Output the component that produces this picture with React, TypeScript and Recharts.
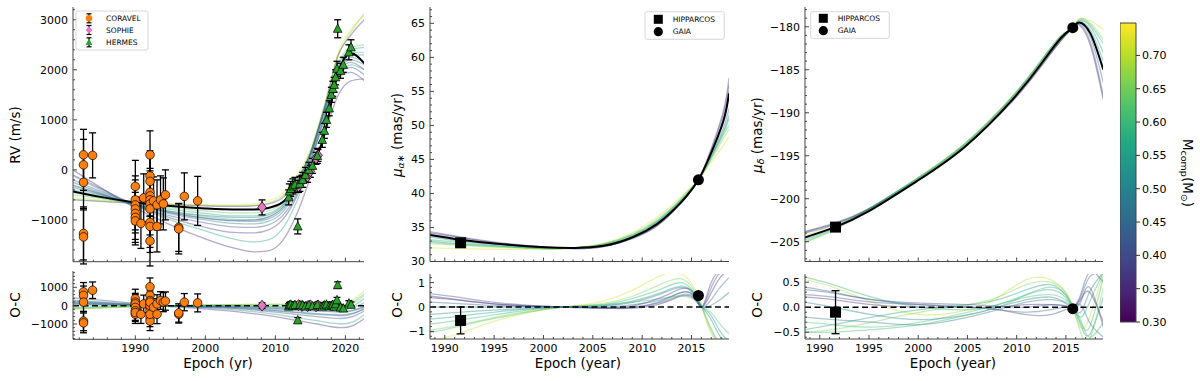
import React from 'react';
import { ComposedChart, Line, Scatter, XAxis, YAxis, ErrorBar, ReferenceLine, ReferenceArea } from 'recharts';

const FRAME = '#444';
const TICKC = '#333';
const FONT = 'DejaVu Sans, Verdana, sans-serif';

// ---------------- Panel 1 : radial velocity ----------------
const rvYears = [1981.1, 1985, 1990, 1995, 2000, 2004, 2007, 2009, 2011, 2013, 2015, 2017, 2019, 2020.8, 2022.7];
const rvBest = [-430, -540, -650, -720, -770, -790, -790, -760, -650, -360, -20, 700, 1950, 2330, 2130];
const rvSampleMass = [0.35, 0.56, 0.40, 0.50, 0.60, 0.45, 0.68, 0.72, 0.42, 0.63, 0.48, 0.37, 0.57, 0.38];
const rvSamples = [
  [0, -350, -760, -1100, -1380, -1560, -1640, -1620, -1420, -900, -150, 700, 1500, 1780, 1820],
  [-120, -400, -720, -1000, -1220, -1380, -1440, -1400, -1180, -650, 100, 1000, 1850, 2100, 2000],
  [-250, -460, -720, -920, -1060, -1140, -1150, -1100, -920, -500, 200, 1050, 1900, 2050, 1900],
  [-300, -480, -700, -880, -1000, -1070, -1080, -1030, -850, -420, 250, 1150, 2000, 2250, 2150],
  [-400, -520, -690, -830, -930, -990, -1000, -950, -760, -330, 300, 1200, 2050, 2350, 2350],
  [-350, -500, -690, -850, -960, -1020, -1030, -980, -800, -380, 280, 1150, 2000, 2200, 2100],
  [-590, -620, -660, -690, -710, -720, -710, -660, -520, -180, 350, 1250, 2300, 2750, 3130],
  [-560, -600, -650, -680, -700, -700, -680, -620, -470, -120, 400, 1300, 2350, 2800, 3100],
  [-200, -430, -690, -860, -970, -1010, -1000, -940, -760, -340, 300, 1200, 2000, 2150, 2000],
  [-500, -570, -670, -760, -820, -860, -860, -820, -660, -250, 350, 1250, 2150, 2450, 2500],
  [-320, -480, -690, -830, -910, -950, -950, -900, -720, -300, 320, 1200, 2050, 2300, 2300],
  [-100, -370, -700, -960, -1150, -1250, -1260, -1200, -1000, -550, 150, 1050, 1850, 1950, 1780],
  [-450, -550, -690, -790, -870, -920, -920, -870, -700, -280, 330, 1200, 2100, 2400, 2450],
  [-600, -630, -670, -700, -720, -730, -720, -680, -560, -230, 330, 1250, 2300, 2700, 3000],
];
const rvOcYears = [1981.1, 1985, 1990, 1995, 2000, 2005, 2010, 2013, 2016, 2018, 2019.5, 2021, 2022.7];
const rvOcMass = [0.35, 0.55, 0.40, 0.50, 0.62, 0.70, 0.45, 0.58, 0.42, 0.66, 0.52, 0.47];
const rvOcSamples = [
  [430, 300, 120, -50, -180, -350, -600, -800, -1000, -1150, -1200, -1100, -700],
  [300, 200, 80, -30, -120, -250, -480, -650, -820, -950, -1000, -900, -500],
  [250, 170, 60, -20, -90, -180, -350, -480, -600, -680, -700, -600, -300],
  [150, 100, 40, -10, -50, -120, -250, -350, -430, -480, -500, -420, -200],
  [-150, -100, -40, 0, 30, 50, 60, 50, 40, 30, 0, 200, 650],
  [-200, -140, -60, 0, 40, 70, 90, 80, 60, 50, 30, 300, 800],
  [200, 130, 50, -10, -60, -130, -280, -380, -480, -520, -550, -450, -150],
  [-100, -60, -20, 0, 10, 0, -50, -100, -150, -200, -220, -50, 400],
  [100, 70, 30, 0, -30, -80, -170, -250, -300, -330, -350, -280, -80],
  [-180, -120, -50, 0, 30, 40, 40, 20, -20, -60, -80, 100, 550],
  [50, 30, 10, 0, -10, -30, -80, -120, -160, -190, -200, -120, 150],
  [120, 80, 30, 0, -20, -60, -130, -200, -260, -300, -320, -250, -50],
];

const coravelYear = [1982.6, 1982.6, 1982.6, 1982.6, 1982.6, 1983.9, 1990.0, 1990.0, 1990.0, 1990.0, 1990.0, 1990.0, 1990.0, 1990.8, 1991.2,
  1992.1, 1992.1, 1992.1, 1992.1, 1992.1, 1992.1, 1992.1, 1992.1, 1992.1, 1992.1, 1992.1, 1992.6, 1993.1, 1993.1, 1993.6, 1994.0, 1994.3,
  1996.2, 1996.2, 1997.0, 1998.9];
const coravelRv = [300, 100, -250, -1270, -1340, 290, -330, -600, -700, -780, -870, -950, -1020, -1070, -560,
  300, -120, -230, -450, -520, -600, -680, -780, -1050, -1130, -1420, -620, -700, -1130, -600, -680, -500,
  -1150, -1180, -530, -620];
const coravelErr = [510, 510, 520, 530, 540, 450, 520, 480, 500, 480, 520, 500, 480, 500, 480,
  480, 500, 520, 480, 500, 510, 490, 520, 500, 520, 500, 480, 500, 510, 480, 520, 500,
  480, 500, 470, 490];
const coravelOc = [750, 560, 190, -840, -940, 840, 375, 190, 95, -95, -280, -470, -380, -470, 95,
  1030, 560, 280, 95, -95, -280, -655, -840, 0, 190, -470, -95, 95, -470, 280, 190, 250,
  -470, -400, 190, 150];

const sophieYear = [2008.1, 2013.3, 2013.8, 2014.6, 2015.0, 2015.8, 2016.1];
const sophieRv = [-750, -330, -230, -130, -30, 230, 290];
const sophieErr = [150, 120, 120, 120, 120, 120, 120];
const sophieOc = [0, 30, -20, -30, 20, -40, 10];

const hermesYear = [2011.9, 2012.0, 2012.2, 2012.5, 2012.8, 2013.2, 2013.5, 2013.9, 2014.3, 2014.8, 2015.3, 2016.0, 2016.7,
  2017.0, 2017.3, 2017.7, 2018.0, 2018.2, 2018.4, 2018.6, 2018.8, 2018.9, 2019.3, 2019.7, 2020.5, 2020.8];
const hermesRv = [-550, -430, -380, -330, -300, -1130, -280, -200, -100, 0, 80, 280, 600,
  780, 1000, 1230, 1500, 1620, 1700, 1850, 2020, 2820, 1980, 2100, 2350, 2450];
const hermesErr = [150, 150, 150, 150, 150, 150, 150, 150, 150, 150, 150, 150, 150,
  150, 150, 150, 150, 150, 150, 150, 150, 180, 150, 150, 150, 150];
const hermesOc = [-50, 30, 60, -20, 40, -800, 40, 20, -40, 30, -30, 40, -50,
  20, 60, -40, 0, 50, -60, 80, 300, 1120, -100, -150, 120, 50];

// ---------------- Panel 2 : mu alpha* ----------------
const raYears = [1988.5, 1991.6, 1995.3, 2000.2, 2003.2, 2006.1, 2009.1, 2011.5, 2013.2, 2014.5, 2015.7, 2016.8, 2018.2, 2018.8];
const raBest = [33.9, 33.2, 32.6, 32.1, 32.0, 32.3, 33.6, 35.5, 37.6, 39.6, 42.0, 45.3, 50.5, 54.7];
const raSampleMass = [0.40, 0.35, 0.50, 0.60, 0.72, 0.66, 0.55, 0.45, 0.62];
const raSamples = [
  [34.4, 33.6, 32.8, 32.1, 31.9, 32.2, 33.4, 35.2, 37.4, 39.5, 42.0, 45.8, 52.0, 57.0],
  [34.2, 33.5, 32.7, 32.1, 31.9, 32.2, 33.5, 35.3, 37.5, 39.5, 42.0, 45.6, 51.5, 56.0],
  [33.6, 33.0, 32.5, 32.0, 32.0, 32.4, 33.7, 35.7, 37.8, 39.8, 42.0, 45.0, 49.5, 52.5],
  [33.2, 32.8, 32.3, 31.9, 32.0, 32.5, 33.9, 35.9, 38.0, 39.9, 42.0, 44.8, 48.8, 51.0],
  [32.0, 31.9, 31.8, 31.8, 32.0, 32.7, 34.3, 36.5, 38.5, 40.3, 42.0, 44.2, 47.0, 48.3],
  [32.6, 32.4, 32.1, 31.9, 32.0, 32.6, 34.1, 36.2, 38.2, 40.1, 42.0, 44.5, 48.0, 49.5],
  [33.0, 32.6, 32.3, 31.9, 32.0, 32.5, 33.8, 35.8, 37.9, 39.8, 42.0, 44.9, 49.0, 51.5],
  [34.0, 33.3, 32.6, 32.0, 31.9, 32.3, 33.6, 35.4, 37.6, 39.6, 42.0, 45.3, 50.8, 55.0],
  [32.8, 32.5, 32.2, 31.9, 32.0, 32.6, 34.0, 36.0, 38.1, 40.0, 42.0, 44.6, 48.5, 50.0],
];
const raOcYears = [1988.5, 1991.35, 1995.3, 2000.2, 2003.2, 2006.1, 2009.1, 2012.0, 2014.0, 2015.25, 2016.05, 2016.9, 2017.9, 2018.8];
const raOcMass = [0.72, 0.40, 0.35, 0.50, 0.60, 0.66, 0.55, 0.45, 0.62, 0.48, 0.38];
const raOcSamples = [
  [-1.4, -1.1, -0.55, -0.1, 0.05, 0.25, 0.7, 1.3, 1.35, 0.8, 0.0, -1.0, -1.5, -1.5],
  [0.55, 0.4, 0.18, 0.02, -0.02, -0.05, -0.02, 0.25, 0.6, 0.45, 0.0, 0.7, 1.4, 1.5],
  [0.38, 0.28, 0.12, 0.02, 0.0, -0.05, -0.05, 0.15, 0.45, 0.35, 0.0, 0.5, 1.2, 1.5],
  [-0.3, -0.22, -0.12, -0.03, 0.0, 0.05, 0.2, 0.55, 0.8, 0.5, 0.0, -0.45, -1.2, -1.5],
  [-0.7, -0.55, -0.3, -0.05, 0.02, 0.1, 0.35, 0.75, 1.0, 0.6, 0.0, -0.8, -1.5, -1.5],
  [-0.95, -0.75, -0.4, -0.08, 0.03, 0.15, 0.45, 0.95, 1.15, 0.7, 0.0, -0.9, -1.5, -1.5],
  [-0.5, -0.38, -0.2, -0.04, 0.0, 0.05, 0.25, 0.6, 0.85, 0.55, 0.0, -0.3, -1.0, -1.4],
  [0.2, 0.14, 0.06, 0.0, -0.02, -0.04, 0.0, 0.2, 0.5, 0.4, 0.0, 0.25, 0.8, 1.2],
  [-1.05, -0.8, -0.45, -0.1, 0.03, 0.1, 0.2, 0.35, 0.45, 0.3, 0.0, -0.2, -0.7, -1.1],
  [0.0, 0.0, 0.0, 0.0, 0.0, 0.0, 0.1, 0.3, 0.6, 0.45, 0.0, 0.05, 0.3, 0.6],
  [0.45, 0.3, 0.12, 0.02, 0.0, -0.03, 0.05, 0.4, 0.75, 0.55, 0.0, 0.9, 1.5, 1.5],
];
const raHip = { year: 1991.6, v: 32.75, oc: -0.55, ocErr: 0.55 };
const raGaia = { year: 2015.7, v: 42.0, oc: 0.47, ocErr: 0.02 };

// ---------------- Panel 3 : mu delta ----------------
const decYears = [1988.5, 1991.55, 1994.9, 1999.8, 2004.7, 2009.55, 2012.5, 2014.5, 2015.7, 2016.35, 2017.5, 2018.8];
const decBest = [-204.5, -203.3, -201.5, -198.0, -194.0, -188.5, -184.3, -181.3, -180.1, -179.5, -180.8, -185.0];
const decSampleMass = [0.60, 0.72, 0.42, 0.35, 0.52, 0.66, 0.56, 0.46];
const decSamples = [
  [-205.0, -203.5, -201.3, -197.7, -193.6, -188.1, -183.9, -181.1, -180.1, -179.2, -179.8, -182.0],
  [-204.3, -203.0, -201.2, -197.7, -193.6, -188.2, -184.0, -181.2, -180.1, -179.1, -179.3, -180.3],
  [-203.8, -202.8, -201.2, -197.9, -193.9, -188.6, -184.5, -181.6, -180.1, -179.7, -181.8, -188.0],
  [-203.9, -202.9, -201.3, -198.0, -194.0, -188.7, -184.6, -181.6, -180.1, -179.8, -182.2, -188.5],
  [-204.6, -203.3, -201.2, -197.8, -193.8, -188.3, -184.1, -181.3, -180.1, -179.4, -180.4, -184.0],
  [-205.1, -203.6, -201.4, -197.8, -193.7, -188.1, -183.9, -181.0, -180.1, -179.1, -179.6, -181.5],
  [-204.8, -203.4, -201.3, -197.7, -193.7, -188.2, -184.0, -181.1, -180.1, -179.3, -180.0, -183.0],
  [-204.0, -203.0, -201.3, -197.9, -193.9, -188.5, -184.4, -181.5, -180.1, -179.6, -181.2, -186.5],
];
const decOcYears = [1988.5, 1991.35, 1995.3, 2000.2, 2005.1, 2008.1, 2011.0, 2013.45, 2014.95, 2015.7, 2016.5, 2017.4, 2018.8];
const decOcMass = [0.70, 0.35, 0.55, 0.45, 0.62, 0.50, 0.66, 0.40, 0.58, 0.48, 0.60, 0.42];
const decOcSamples = [
  [0.55, 0.4, 0.1, -0.15, -0.05, 0.2, 0.55, 0.55, 0.3, 0.0, -0.4, -0.2, 0.7],
  [0.2, 0.15, 0.05, 0.0, 0.0, 0.0, 0.05, 0.05, 0.02, 0.0, 0.15, 0.3, -0.3],
  [-0.45, -0.35, -0.2, -0.05, 0.05, 0.15, 0.35, 0.45, 0.25, 0.0, -0.35, -0.55, 0.2],
  [0.4, 0.3, 0.15, 0.05, 0.0, -0.05, -0.1, -0.05, 0.0, 0.0, 0.2, 0.6, 0.7],
  [-0.3, -0.35, -0.4, -0.3, -0.1, 0.05, 0.2, 0.25, 0.15, 0.0, -0.25, -0.6, -0.3],
  [0.1, 0.0, -0.15, -0.25, -0.15, 0.0, 0.15, 0.2, 0.1, 0.0, -0.1, 0.3, 0.7],
  [-0.5, -0.45, -0.3, -0.1, 0.05, 0.2, 0.45, 0.5, 0.3, 0.0, -0.5, -0.65, 0.4],
  [0.25, 0.2, 0.1, 0.05, 0.0, -0.05, -0.15, -0.15, -0.05, 0.0, 0.25, 0.7, 0.5],
  [0.6, 0.45, 0.2, 0.0, -0.05, 0.05, 0.25, 0.35, 0.2, 0.0, -0.2, 0.1, 0.7],
  [-0.2, -0.25, -0.3, -0.35, -0.2, -0.05, 0.1, 0.15, 0.08, 0.0, 0.05, -0.3, -0.6],
  [-0.5, -0.5, -0.45, -0.35, -0.15, 0.0, 0.25, 0.4, 0.25, 0.0, -0.3, -0.4, 0.6],
  [0.35, 0.28, 0.15, 0.08, 0.05, 0.02, 0.0, 0.05, 0.03, 0.0, 0.1, 0.4, -0.4],
];
const decHip = { year: 1991.6, v: -203.3, oc: -0.1, ocErr: 0.43 };
const decGaia = { year: 2015.7, v: -180.1, oc: -0.03, ocErr: 0.02 };

// ---------------- ticks ----------------
const rvXMajor = [1990, 2000, 2010, 2020];
const rvYMajor = [-1000, 0, 1000, 2000, 3000];
const rvOcYMajor = [-1000, 0, 1000];
const pmXMajor = [1990, 1995, 2000, 2005, 2010, 2015];
const raYMajor = [30, 35, 40, 45, 50, 55, 60, 65];
const raOcYMajor = [-1, 0, 1];
const decYMajor = [-205, -200, -195, -190, -185, -180];
const decOcYMajor = [-0.5, 0.0, 0.5];
const cbarTicks = [0.30, 0.35, 0.40, 0.45, 0.50, 0.55, 0.60, 0.65, 0.70];

// ---------------- helpers ----------------
const VIR = [[68, 1, 84], [72, 36, 117], [65, 68, 135], [53, 95, 141], [42, 120, 142], [33, 145, 140], [34, 168, 132], [68, 191, 112], [122, 209, 81], [189, 223, 38], [253, 231, 37]];
function viridis(t: number) {
  const c = Math.max(0, Math.min(1, t)) * 10;
  const i = Math.min(9, Math.floor(c));
  const f = c - i;
  const a = VIR[i], b = VIR[i + 1];
  return `rgb(${a.map((v, k) => Math.round(v + (b[k] - v) * f)).join(',')})`;
}
const massColor = (m: number) => viridis((m - 0.3) / 0.45);

function withMinor(majors: number[], lo: number, hi: number, step: number) {
  const out: number[] = [];
  const n0 = Math.ceil(lo / step - 1e-9), n1 = Math.floor(hi / step + 1e-9);
  for (let n = n0; n <= n1; n++) out.push(+(n * step).toFixed(6));
  majors.forEach(m => { if (!out.some(v => Math.abs(v - m) < 1e-9)) out.push(m); });
  return out.sort((a, b) => a - b);
}
const rows = (xs: number[], ys: number[]) => xs.map((year, i) => ({ year, v: ys[i] }));
const pts = (xs: number[], ys: number[], es: number[]) => xs.map((year, i) => ({ year, v: ys[i], e: es[i] }));

const fmtInt = (v: number) => (v < 0 ? '\u2212' + Math.abs(v) : String(v));
const fmt1 = (v: number) => (v < -1e-9 ? '\u2212' + Math.abs(v).toFixed(1) : Math.abs(v).toFixed(1));

type Side = 'left' | 'right' | 'top' | 'bottom';
function makeTick(side: Side, majors: number[], fmt?: (v: number) => string) {
  return (props: any) => {
    const { x, y, payload } = props;
    const v = payload.value;
    const major = majors.some(m => Math.abs(m - v) < 1e-9);
    const L = major ? 4 : 2;
    let x2 = x, y2 = y;
    if (side === 'left') x2 = x + L;
    else if (side === 'right') x2 = x - L;
    else if (side === 'top') y2 = y + L;
    else y2 = y - L;
    return (
      <g>
        <line x1={x} y1={y} x2={x2} y2={y2} stroke={TICKC} strokeWidth={0.9} />
        {major && fmt && side === 'left' && (
          <text x={x - 5} y={y} dy="0.36em" textAnchor="end" fontSize={11} fontFamily={FONT} fill="#000">{fmt(v)}</text>
        )}
        {major && fmt && side === 'bottom' && (
          <text x={x} y={y + 4.5} dy="0.73em" textAnchor="middle" fontSize={11} fontFamily={FONT} fill="#000">{fmt(v)}</text>
        )}
      </g>
    );
  };
}

type PanelProps = {
  rect: [number, number, number, number];
  xDomain: [number, number];
  yDomain: [number, number];
  xMajor: number[];
  xMinorStep: number;
  yMajor: number[];
  yMinorStep: number;
  xFmt?: (v: number) => string;
  yFmt: (v: number) => string;
  children: React.ReactNode;
};
function Panel({ rect, xDomain, yDomain, xMajor, xMinorStep, yMajor, yMinorStep, xFmt, yFmt, children }: PanelProps) {
  const [x0, y0, x1, y1] = rect;
  const LW = 60, BH = 24;
  const w = x1 - x0, h = y1 - y0;
  const xt = withMinor(xMajor, xDomain[0], xDomain[1], xMinorStep);
  const yt = withMinor(yMajor, yDomain[0], yDomain[1], yMinorStep);
  const axisLine = { stroke: FRAME, strokeWidth: 1 };
  return (
    <div style={{ position: 'absolute', left: x0 - LW, top: y0, width: w + LW, height: h + BH }}>
      <ComposedChart width={w + LW} height={h + BH} margin={{ top: 0, right: 0, bottom: 0, left: 0 }}>
        <XAxis xAxisId={0} type="number" dataKey="year" domain={xDomain} allowDataOverflow ticks={xt} interval={0}
          tickSize={0} tickMargin={0} tickLine={false} axisLine={axisLine} height={BH} tick={makeTick('bottom', xMajor, xFmt)} />
        <XAxis xAxisId="top" orientation="top" type="number" dataKey="year" domain={xDomain} allowDataOverflow ticks={xt} interval={0}
          tickSize={0} tickMargin={0} tickLine={false} axisLine={axisLine} height={0} tick={makeTick('top', xMajor)} />
        <YAxis yAxisId={0} type="number" domain={yDomain} allowDataOverflow ticks={yt} interval={0}
          tickSize={0} tickMargin={0} tickLine={false} axisLine={axisLine} width={LW} tick={makeTick('left', yMajor, yFmt)} />
        <YAxis yAxisId="right" orientation="right" type="number" domain={yDomain} allowDataOverflow ticks={yt} interval={0}
          tickSize={0} tickMargin={0} tickLine={false} axisLine={axisLine} width={0} tick={makeTick('right', yMajor)} />
        {children}
      </ComposedChart>
    </div>
  );
}

const orangeDot = (p: any) => <circle cx={p.cx} cy={p.cy} r={4.3} fill="#ff7f0e" stroke="#000" strokeWidth={0.7} />;
const pinkDiamond = (p: any) => (
  <path d={`M${p.cx},${p.cy - 5.5}L${p.cx + 4.3},${p.cy}L${p.cx},${p.cy + 5.5}L${p.cx - 4.3},${p.cy}Z`} fill="#e377c2" stroke="#000" strokeWidth={0.7} />
);
const greenTri = (p: any) => (
  <path d={`M${p.cx},${p.cy - 4.8}L${p.cx + 4.3},${p.cy + 3.6}L${p.cx - 4.3},${p.cy + 3.6}Z`} fill="#2ca02c" stroke="#000" strokeWidth={0.7} />
);
const blackSquare = (p: any) => <rect x={p.cx - 5.5} y={p.cy - 5.5} width={11} height={11} fill="#000" />;
const blackCircle = (p: any) => <circle cx={p.cx} cy={p.cy} r={5.5} fill="#000" />;

const sampleLines = (xs: number[], samples: number[][], masses: number[], prefix: string, curve: any = 'monotone') =>
  samples.map((s, i) => (
    <Line key={prefix + i} data={rows(xs, s)} dataKey="v" type={curve} dot={false} activeDot={false}
      stroke={massColor(masses[i])} strokeOpacity={0.4} strokeWidth={1.3} isAnimationActive={false} />
  ));
const bestLine = (xs: number[], ys: number[], curve: any = 'monotone') => (
  <Line key="best" data={rows(xs, ys)} dataKey="v" type={curve} dot={false} activeDot={false}
    stroke="#000" strokeWidth={2} isAnimationActive={false} />
);
const zeroLine = <ReferenceLine key="zero" y={0} stroke="#000" strokeWidth={1.5} strokeDasharray="6 3.5" />;
const scat = (key: string, data: any[], shape: any, cap = 3.5) => (
  <Scatter key={key} data={data} dataKey="v" shape={shape} isAnimationActive={false}>
    <ErrorBar dataKey="e" direction="y" width={cap} stroke="#000" strokeWidth={1.3} />
  </Scatter>
);

function Legend1() {
  const rowsY = [18.3, 30, 42.3];
  const mx = 89;
  return (
    <g>
      <rect x={76} y={11} width={72} height={39} rx={2} fill="#fff" fillOpacity={0.8} stroke="#ccc" strokeWidth={0.8} />
      {rowsY.map((y, i) => (
        <g key={i}>
          <line x1={mx} y1={y - 4.5} x2={mx} y2={y + 4.5} stroke="#000" strokeWidth={1.2} />
          <line x1={mx - 2.5} y1={y - 4.5} x2={mx + 2.5} y2={y - 4.5} stroke="#000" strokeWidth={1.2} />
          <line x1={mx - 2.5} y1={y + 4.5} x2={mx + 2.5} y2={y + 4.5} stroke="#000" strokeWidth={1.2} />
        </g>
      ))}
      <circle cx={mx} cy={rowsY[0]} r={3.3} fill="#ff7f0e" />
      <path d={`M${mx},${rowsY[1] - 4}L${mx + 3.3},${rowsY[1]}L${mx},${rowsY[1] + 4}L${mx - 3.3},${rowsY[1]}Z`} fill="#e377c2" />
      <path d={`M${mx},${rowsY[2] - 3.8}L${mx + 3.4},${rowsY[2] + 2.8}L${mx - 3.4},${rowsY[2] + 2.8}Z`} fill="#2ca02c" />
      {['CORAVEL', 'SOPHIE', 'HERMES'].map((t, i) => (
        <text key={t} x={106} y={rowsY[i]} dy="0.36em" fontSize={7.5} fontFamily={FONT} fill="#000">{t}</text>
      ))}
    </g>
  );
}
function LegendPM({ x, y, w, h, mx, tx, r1, r2 }: any) {
  return (
    <g>
      <rect x={x} y={y} width={w} height={h} rx={2} fill="#fff" fillOpacity={0.8} stroke="#ccc" strokeWidth={0.8} />
      <rect x={mx - 4.5} y={r1 - 4.5} width={9} height={9} fill="#000" />
      <circle cx={mx} cy={r2} r={4.6} fill="#000" />
      <text x={tx} y={r1} dy="0.36em" fontSize={7.5} fontFamily={FONT} fill="#000">HIPPARCOS</text>
      <text x={tx} y={r2} dy="0.36em" fontSize={7.5} fontFamily={FONT} fill="#000">GAIA</text>
    </g>
  );
}

function RotLabel({ x, y, children, rot = -90, size = 13.5 }: any) {
  return (
    <text transform={`translate(${x},${y}) rotate(${rot})`} textAnchor="middle" dominantBaseline="central"
      fontSize={size} fontFamily={FONT} fill="#000">{children}</text>
  );
}

export default function App() {
  const rvX: [number, number] = [1981.1, 2022.7];
  const pmX: [number, number] = [1988.5, 2018.8];
  return (
    <div style={{ position: 'absolute', left: 0, top: 0, width: 1200, height: 381, background: '#fff', overflow: 'hidden', fontFamily: FONT }}>
      <svg width={0} height={0} style={{ position: 'absolute' }}>
        <defs>
          <linearGradient id="viridisGrad" x1="0" y1="1" x2="0" y2="0">
            {VIR.map((c, i) => (
              <stop key={i} offset={`${i * 10}%`} stopColor={`rgb(${c.join(',')})`} />
            ))}
          </linearGradient>
        </defs>
      </svg>

      {/* Panel 1 main */}
      <Panel rect={[72.7, 7, 364, 261.7]} xDomain={rvX} yDomain={[-1835, 3255]} xMajor={rvXMajor} xMinorStep={2}
        yMajor={rvYMajor} yMinorStep={200} yFmt={fmtInt}>
        {sampleLines(rvYears, rvSamples, rvSampleMass, 'rv')}
        {bestLine(rvYears, rvBest)}
        {scat('cor', pts(coravelYear, coravelRv, coravelErr), orangeDot)}
        {scat('sop', pts(sophieYear, sophieRv, sophieErr), pinkDiamond)}
        {scat('her', pts(hermesYear, hermesRv, hermesErr), greenTri)}
      </Panel>
      {/* Panel 1 O-C */}
      <Panel rect={[72.7, 271, 364, 339.3]} xDomain={rvX} yDomain={[-1835, 1890]} xMajor={rvXMajor} xMinorStep={2}
        yMajor={rvOcYMajor} yMinorStep={200} yFmt={fmtInt} xFmt={fmtInt}>
        {sampleLines(rvOcYears, rvOcSamples, rvOcMass, 'rvoc')}
        {zeroLine}
        {scat('coroc', pts(coravelYear, coravelOc, coravelErr), orangeDot)}
        {scat('sopoc', pts(sophieYear, sophieOc, sophieErr), pinkDiamond)}
        {scat('heroc', pts(hermesYear, hermesOc, hermesErr), greenTri)}
      </Panel>

      {/* Panel 2 main */}
      <Panel rect={[430, 7, 729, 261.5]} xDomain={pmX} yDomain={[30, 67.4]} xMajor={pmXMajor} xMinorStep={1}
        yMajor={raYMajor} yMinorStep={1} yFmt={fmtInt}>
        {sampleLines(raYears, raSamples, raSampleMass, 'ra', 'natural')}
        {bestLine(raYears, raBest, 'natural')}
        {scat('rahip', [{ year: raHip.year, v: raHip.v, e: 0.1 }], blackSquare, 0)}
        {scat('ragaia', [{ year: raGaia.year, v: raGaia.v, e: 0.05 }], blackCircle, 0)}
      </Panel>
      {/* Panel 2 O-C */}
      <Panel rect={[430, 273.5, 729, 338.5]} xDomain={pmX} yDomain={[-1.31, 1.35]} xMajor={pmXMajor} xMinorStep={1}
        yMajor={raOcYMajor} yMinorStep={0.2} yFmt={fmtInt} xFmt={fmtInt}>
        {sampleLines(raOcYears, raOcSamples, raOcMass, 'raoc', 'natural')}
        {zeroLine}
        {scat('rahipoc', [{ year: raHip.year, v: raHip.oc, e: raHip.ocErr }], blackSquare, 4)}
        {scat('ragaiaoc', [{ year: raGaia.year, v: raGaia.oc, e: raGaia.ocErr }], blackCircle, 0)}
      </Panel>

      {/* Panel 3 main */}
      <Panel rect={[805, 7, 1103.3, 261.5]} xDomain={pmX} yDomain={[-207.3, -177.7]} xMajor={pmXMajor} xMinorStep={1}
        yMajor={decYMajor} yMinorStep={1} yFmt={fmtInt}>
        {sampleLines(decYears, decSamples, decSampleMass, 'dec', 'natural')}
        {bestLine(decYears, decBest, 'natural')}
        {scat('dechip', [{ year: decHip.year, v: decHip.v, e: 0.1 }], blackSquare, 0)}
        {scat('decgaia', [{ year: decGaia.year, v: decGaia.v, e: 0.05 }], blackCircle, 0)}
      </Panel>
      {/* Panel 3 O-C */}
      <Panel rect={[805, 273.5, 1103.3, 338.5]} xDomain={pmX} yDomain={[-0.636, 0.664]} xMajor={pmXMajor} xMinorStep={1}
        yMajor={decOcYMajor} yMinorStep={0.1} yFmt={fmt1} xFmt={fmtInt}>
        {sampleLines(decOcYears, decOcSamples, decOcMass, 'decoc', 'natural')}
        {zeroLine}
        {scat('dechipoc', [{ year: decHip.year, v: decHip.oc, e: decHip.ocErr }], blackSquare, 4)}
        {scat('decgaiaoc', [{ year: decGaia.year, v: decGaia.oc, e: decGaia.ocErr }], blackCircle, 0)}
      </Panel>

      {/* Colorbar */}
      <div style={{ position: 'absolute', left: 1120, top: 14.7, width: 70, height: 315 }}>
        <ComposedChart width={70} height={315} margin={{ top: 8, right: 0, bottom: 8, left: 0 }}>
          <XAxis type="number" dataKey="x" domain={[0, 1]} hide allowDataOverflow />
          <YAxis orientation="right" type="number" domain={[0.3, 0.7486]} allowDataOverflow ticks={cbarTicks} interval={0}
            width={54} tickSize={4} tickMargin={2} axisLine={false} tickLine={{ stroke: TICKC }}
            tick={{ fontSize: 11, fill: '#000', fontFamily: FONT }} tickFormatter={(v: number) => v.toFixed(2)} />
          <ReferenceArea x1={0} x2={1} y1={0.3} y2={0.7486} fill="url(#viridisGrad)" fillOpacity={1} stroke={FRAME} strokeWidth={1} ifOverflow="visible" />
        </ComposedChart>
      </div>

      {/* Titles & legends */}
      <svg width={1200} height={381} style={{ position: 'absolute', left: 0, top: 0, pointerEvents: 'none' }}>
        <Legend1 />
        <LegendPM x={645} y={11.7} w={79.3} h={27.6} mx={658.3} tx={672.7} r1={19.3} r2={31.7} />
        <LegendPM x={810.7} y={11.7} w={78.6} h={26.6} mx={823.3} tx={837.7} r1={18.3} r2={30.7} />

        <RotLabel x={15} y={135}>RV (m/s)</RotLabel>
        <RotLabel x={15} y={305}>O-C</RotLabel>
        <text x={218} y={368} textAnchor="middle" fontSize={13.5} fontFamily={FONT}>Epoch (yr)</text>

        <RotLabel x={397} y={135}>
          <tspan fontStyle="italic">μ</tspan>
          <tspan fontStyle="italic" fontSize={9.5} dy={3}>α∗</tspan>
          <tspan dy={-3}> (mas/yr)</tspan>
        </RotLabel>
        <RotLabel x={397} y={305}>O-C</RotLabel>
        <text x={578} y={368} textAnchor="middle" fontSize={13.5} fontFamily={FONT}>Epoch (year)</text>

        <RotLabel x={757} y={135}>
          <tspan fontStyle="italic">μ</tspan>
          <tspan fontStyle="italic" fontSize={9.5} dy={3}>δ</tspan>
          <tspan dy={-3}> (mas/yr)</tspan>
        </RotLabel>
        <RotLabel x={757} y={305}>O-C</RotLabel>
        <text x={953} y={368} textAnchor="middle" fontSize={13.5} fontFamily={FONT}>Epoch (year)</text>

        <RotLabel x={1188} y={173} rot={90}>
          <tspan>M</tspan>
          <tspan fontSize={9.5} dy={3}>comp</tspan>
          <tspan dy={-3}>(M</tspan>
          <tspan fontSize={9.5} dy={3}>⊙</tspan>
          <tspan dy={-3}>)</tspan>
        </RotLabel>
      </svg>
    </div>
  );
}
